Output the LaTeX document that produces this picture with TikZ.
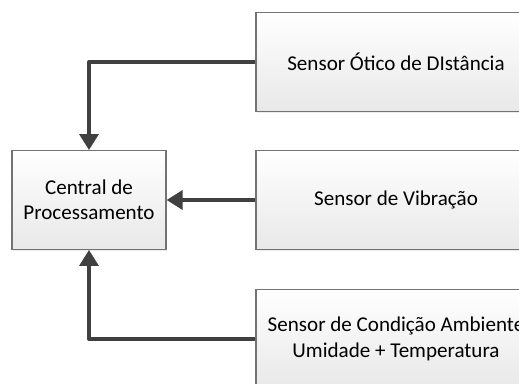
\documentclass[tikz,border=0pt]{standalone}
\usepackage{fontspec}
\setmainfont{Carlito}
\usepackage{tikz}
\usetikzlibrary{
	arrows.meta,
	positioning,
	shadows
}

\begin{document}
\begin{tikzpicture}[x=0.75pt, y=-0.75pt,
	blockbox/.style={draw=black!55, line width=0.8pt, top color=white, bottom color=black!9,
		drop shadow={opacity=0.15, shadow xshift=1pt, shadow yshift=-1.5pt},
		align=center, font=\fontsize{15.8}{19}\selectfont, inner sep=0pt},
	link/.style={draw=black!75, line width=3pt, line join=round,
		-{Triangle[length=12pt, width=14pt]}}
]
	\useasboundingbox (0,0) rectangle (519,383);
	\clip (0,0) rectangle (519,383);
	\node[blockbox, minimum width=115.5pt, minimum height=74pt] (cpu) at (89,200) {Central de\\Processamento};
	\node[blockbox, minimum width=210pt, minimum height=74pt] (otico) at (396,62) {Sensor Ótico de DIstância};
	\node[blockbox, minimum width=210pt, minimum height=74pt] (vibra) at (396,200) {Sensor de Vibração};
	\node[blockbox, minimum width=210pt, minimum height=74pt] (amb) at (396,339) {Sensor de Condição Ambiente\\Umidade + Temperatura};
	\draw[link] (otico.west) -| (cpu.north);
	\draw[link] (vibra.west) -- (cpu.east);
	\draw[link] (amb.west) -| (cpu.south);
\end{tikzpicture}
\end{document}
